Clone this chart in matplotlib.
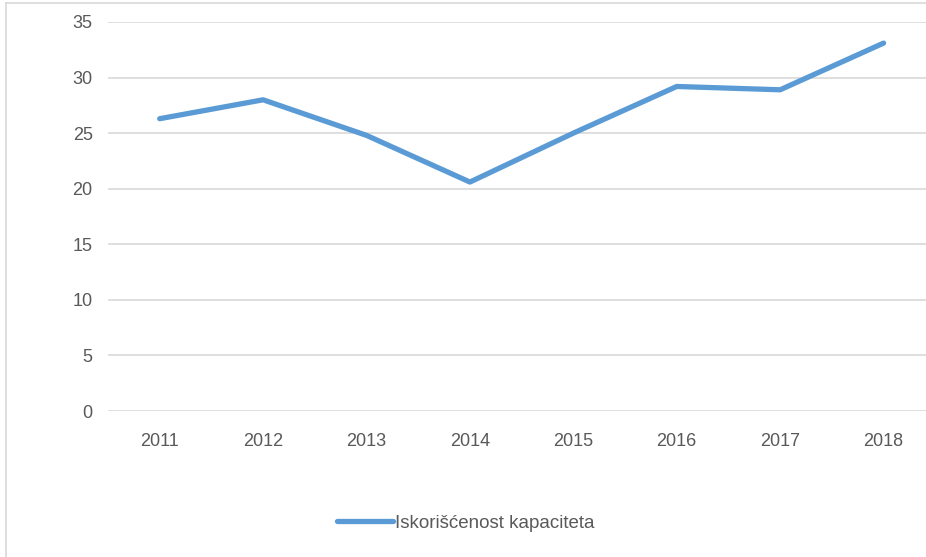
import matplotlib.pyplot as plt
from matplotlib.lines import Line2D

years = ['2011', '2012', '2013', '2014', '2015', '2016', '2017', '2018']
values = [26.3, 28.0, 24.8, 20.6, 25.0, 29.2, 28.9, 33.1]
series_name = 'Iskorišćenost kapaciteta'

plt.rcParams['font.family'] = ['Liberation Sans Narrow', 'Liberation Sans', 'DejaVu Sans']
grey = '#595959'

fig = plt.figure(figsize=(9.26, 5.57), dpi=100)
ax = fig.add_axes([108 / 926, 1 - 411 / 557, 1 - 108 / 926 + 0.01, (411 - 22) / 557])

x = range(len(years))
ax.plot(x, values, color='#5B9BD5', linewidth=3.8, solid_capstyle='round', solid_joinstyle='round')

ax.set_xlim(-0.5, 7.5)
ax.set_ylim(0, 35)
ax.set_yticks(range(0, 36, 5))
ax.set_xticks(list(x))
ax.set_xticklabels(years)
ax.grid(axis='y', color='#d9d9d9', linewidth=1.2)
ax.set_axisbelow(True)
for s in ax.spines.values():
    s.set_visible(False)
ax.tick_params(length=0, labelsize=13, colors=grey)
ax.tick_params(axis='y', pad=11)
ax.tick_params(axis='x', pad=16)

# legend
handle = Line2D([], [], color='#5B9BD5', linewidth=3.8, solid_capstyle='round')
fig.legend([handle], [series_name], loc='center', bbox_to_anchor=(466 / 926, 1 - 523 / 557),
           frameon=False, fontsize=13.5, labelcolor=grey, handlelength=3.0, handletextpad=0.1)

# chart border remnants
fig.add_artist(Line2D([6 / 926, 6 / 926], [0, 1 - 3 / 557], color='#d9d9d9', linewidth=1.2))
fig.add_artist(Line2D([6 / 926, 1], [1 - 3 / 557, 1 - 3 / 557], color='#d9d9d9', linewidth=1.2))

fig.savefig('out.png', dpi=100)
